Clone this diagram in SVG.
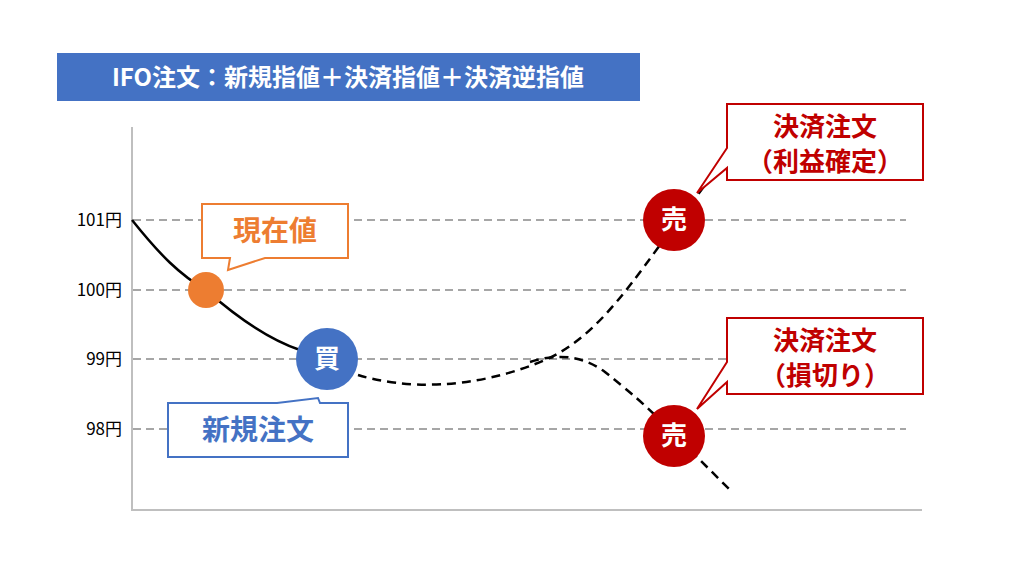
<svg xmlns="http://www.w3.org/2000/svg" width="1024" height="576" viewBox="0 0 1024 576">
<style>
text{font-family:"Noto Sans CJK JP","Noto Sans",sans-serif;font-weight:bold}
.grid{stroke:#a6a6a6;stroke-width:2;stroke-dasharray:8,5}
.ax{stroke:#bfbfbf;stroke-width:2}
.lbl{font-size:17px;font-weight:normal;fill:#000;text-anchor:end}
.dash{fill:none;stroke:#000;stroke-width:2.5;stroke-dasharray:9,6}
.ctext{font-size:26px;fill:#fff;text-anchor:middle}
.red{fill:#c00000;font-size:26px;text-anchor:middle}
</style>
<rect width="1024" height="576" fill="#fff"/>
<g id="title"><rect x="57" y="53" width="583" height="48" fill="#4472c4"/>
<text x="348" y="86" font-size="24" fill="#fff" text-anchor="middle">IFO注文：新規指値＋決済指値＋決済逆指値</text></g>
<g id="axes">
<line class="ax" x1="132" y1="127" x2="132" y2="511"/>
<line class="ax" x1="131" y1="510" x2="922" y2="510"/>
<line class="grid" x1="133" y1="220" x2="906" y2="220"/>
<line class="grid" x1="133" y1="290" x2="906" y2="290"/>
<line class="grid" x1="133" y1="359" x2="906" y2="359"/>
<line class="grid" x1="133" y1="429" x2="906" y2="429"/>
<text class="lbl" x="122" y="226">101円</text>
<text class="lbl" x="122" y="296">100円</text>
<text class="lbl" x="122" y="365">99円</text>
<text class="lbl" x="122" y="435">98円</text>
</g>
<g id="connectors">
<path d="M132,220 C160,255 180,275 206,290 C240,320 270,340 300,350" fill="none" stroke="#000" stroke-width="2.5"/>
<path class="dash" d="M358,375 C400,388 470,392 545,360 C590,340 620,300 660,245 L705,185"/>
<path class="dash" d="M530,362 C555,354 580,354 605,372 C630,392 645,405 660,420 L730,490"/>
</g>
<g id="genzaine">
<path d="M202,204 H348 V258 H265 L228,270 L230,258 H202 Z" fill="#fff" stroke="#ed7d31" stroke-width="2"/>
<text x="275" y="241" font-size="28" fill="#ed7d31" text-anchor="middle">現在値</text>
<circle cx="206" cy="290" r="18" fill="#ed7d31"/>
</g>
<g id="kai"><circle cx="327" cy="359" r="31" fill="#4472c4"/><text class="ctext" x="327" y="368">買</text></g>
<g id="shinki">
<path d="M168,403 H277 L318,398 L320,403 H348 V457 H168 Z" fill="#fff" stroke="#4472c4" stroke-width="2"/>
<text x="258" y="440" font-size="28" fill="#4472c4" text-anchor="middle">新規注文</text>
</g>
<g id="uri1"><circle cx="674" cy="220" r="31" fill="#c00000"/><text class="ctext" x="674" y="229">売</text></g>
<g id="uri2"><circle cx="674" cy="436" r="31" fill="#c00000"/><text class="ctext" x="674" y="445">売</text></g>
<g id="kessai1">
<path d="M727,104 H923 V180 H727 V168 L697,193 L727,148 Z" fill="#fff" stroke="#c00000" stroke-width="2"/>
<text class="red" x="825" y="136">決済注文</text>
<text class="red" x="825" y="171">（利益確定）</text>
</g>
<g id="kessai2">
<path d="M727,318 H923 V394 H727 V382 L697,409 L727,362 Z" fill="#fff" stroke="#c00000" stroke-width="2"/>
<text class="red" x="825" y="350">決済注文</text>
<text class="red" x="825" y="385">（損切り）</text>
</g>
</svg>
